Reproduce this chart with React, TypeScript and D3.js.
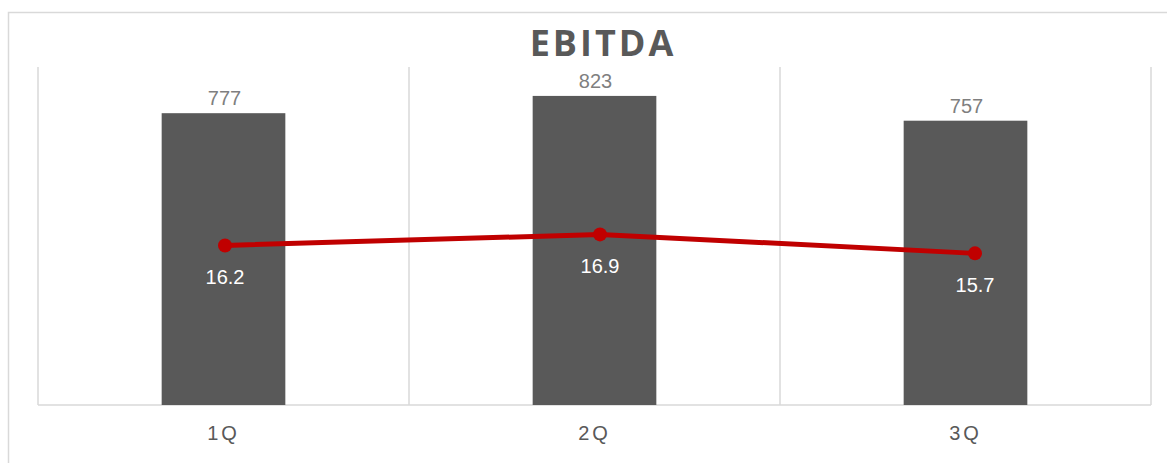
import React, { useRef, useEffect } from "react";
import { select, scaleLinear, scaleBand, line } from "d3";

const categories = ["1Q", "2Q", "3Q"];
const ebitda = [777, 823, 757];
const margin = [16.2, 16.9, 15.7];
const barAxisMax = 900;
const lineAxisDomain: [number, number] = [6.1, 27.5];

const W = 1167;
const H = 463;

const App: React.FC = () => {
  const svgRef = useRef<SVGSVGElement>(null);

  useEffect(() => {
    const svg = select(svgRef.current);
    svg.selectAll("*").remove();

    const left = 38;
    const right = 1151;
    const top = 67;
    const bottom = 405;

    const x = scaleBand().domain(categories).range([left, right]).paddingInner(0).paddingOuter(0);
    // the line series sits on its own (secondary) category axis, slightly wider
    const x2 = scaleBand().domain(categories).range([37.5, 1162.5]);
    const y = scaleLinear().domain([0, barAxisMax]).range([bottom, top]);
    const y2 = scaleLinear().domain(lineAxisDomain).range([bottom, top]);
    const bw = x.bandwidth() / 3;
    const cx = (c: string) => x(c)! + x.bandwidth() / 2;
    const cx2 = (c: string) => x2(c)! + x2.bandwidth() / 2;

    // outer chart border
    svg
      .append("rect")
      .attr("x", 8.5)
      .attr("y", 12.5)
      .attr("width", 1180)
      .attr("height", 480)
      .attr("fill", "#fff")
      .attr("stroke", "#d9d9d9")
      .attr("stroke-width", 1.5);

    svg
      .append("text")
      .text("EBITDA")
      .attr("x", 603)
      .attr("y", 56)
      .attr("text-anchor", "middle")
      .attr("font-family", "'Open Sans', sans-serif")
      .attr("font-weight", "bold")
      .attr("font-size", 36)
      .attr("letter-spacing", 3)
      .attr("fill", "#595959");

    // vertical category gridlines
    const bounds = [...categories.map((c) => x(c)!), right];
    svg
      .selectAll("line.grid")
      .data(bounds)
      .join("line")
      .attr("class", "grid")
      .attr("x1", (d) => d)
      .attr("x2", (d) => d)
      .attr("y1", top)
      .attr("y2", bottom)
      .attr("stroke", "#d9d9d9")
      .attr("stroke-width", 1.5);

    svg
      .append("line")
      .attr("x1", left)
      .attr("x2", right)
      .attr("y1", bottom)
      .attr("y2", bottom)
      .attr("stroke", "#d9d9d9")
      .attr("stroke-width", 1.5);

    svg
      .selectAll("rect.bar")
      .data(ebitda)
      .join("rect")
      .attr("class", "bar")
      .attr("x", (_, i) => cx(categories[i]) - bw / 2)
      .attr("y", (d) => y(d))
      .attr("width", bw)
      .attr("height", (d) => bottom - y(d))
      .attr("fill", "#595959");

    svg
      .selectAll("text.barlabel")
      .data(ebitda)
      .join("text")
      .attr("class", "barlabel")
      .text((d) => d)
      .attr("x", (_, i) => cx(categories[i]) + 1)
      .attr("y", (d) => y(d) - 8)
      .attr("text-anchor", "middle")
      .attr("font-family", "'Liberation Sans', Arial, sans-serif")
      .attr("font-size", 20)
      .attr("fill", "#7f7f7f");

    svg
      .selectAll("text.cat")
      .data(categories)
      .join("text")
      .attr("class", "cat")
      .text((d) => d)
      .attr("x", (d) => cx(d))
      .attr("y", 440)
      .attr("text-anchor", "middle")
      .attr("font-family", "'Liberation Sans', Arial, sans-serif")
      .attr("font-size", 20)
      .attr("letter-spacing", 3)
      .attr("fill", "#595959");

    const path = line<number>()
      .x((_, i) => cx2(categories[i]))
      .y((d) => y2(d));

    svg
      .append("path")
      .attr("d", path(margin)!)
      .attr("fill", "none")
      .attr("stroke", "#c00000")
      .attr("stroke-width", 5)
      .attr("stroke-linejoin", "round");

    svg
      .selectAll("circle.pt")
      .data(margin)
      .join("circle")
      .attr("class", "pt")
      .attr("cx", (_, i) => cx2(categories[i]))
      .attr("cy", (d) => y2(d))
      .attr("r", 7)
      .attr("fill", "#c00000");

    svg
      .selectAll("text.linelabel")
      .data(margin)
      .join("text")
      .attr("class", "linelabel")
      .text((d) => d.toFixed(1))
      .attr("x", (_, i) => cx2(categories[i]))
      .attr("y", (d) => y2(d) + 39)
      .attr("text-anchor", "middle")
      .attr("font-family", "'Liberation Sans', Arial, sans-serif")
      .attr("font-size", 20)
      .attr("fill", "#ffffff");
  }, []);

  return (
    <svg
      ref={svgRef}
      width={W}
      height={H}
      style={{ position: "absolute", left: 0, top: 0, background: "#fff" }}
    ></svg>
  );
};

export default App;
